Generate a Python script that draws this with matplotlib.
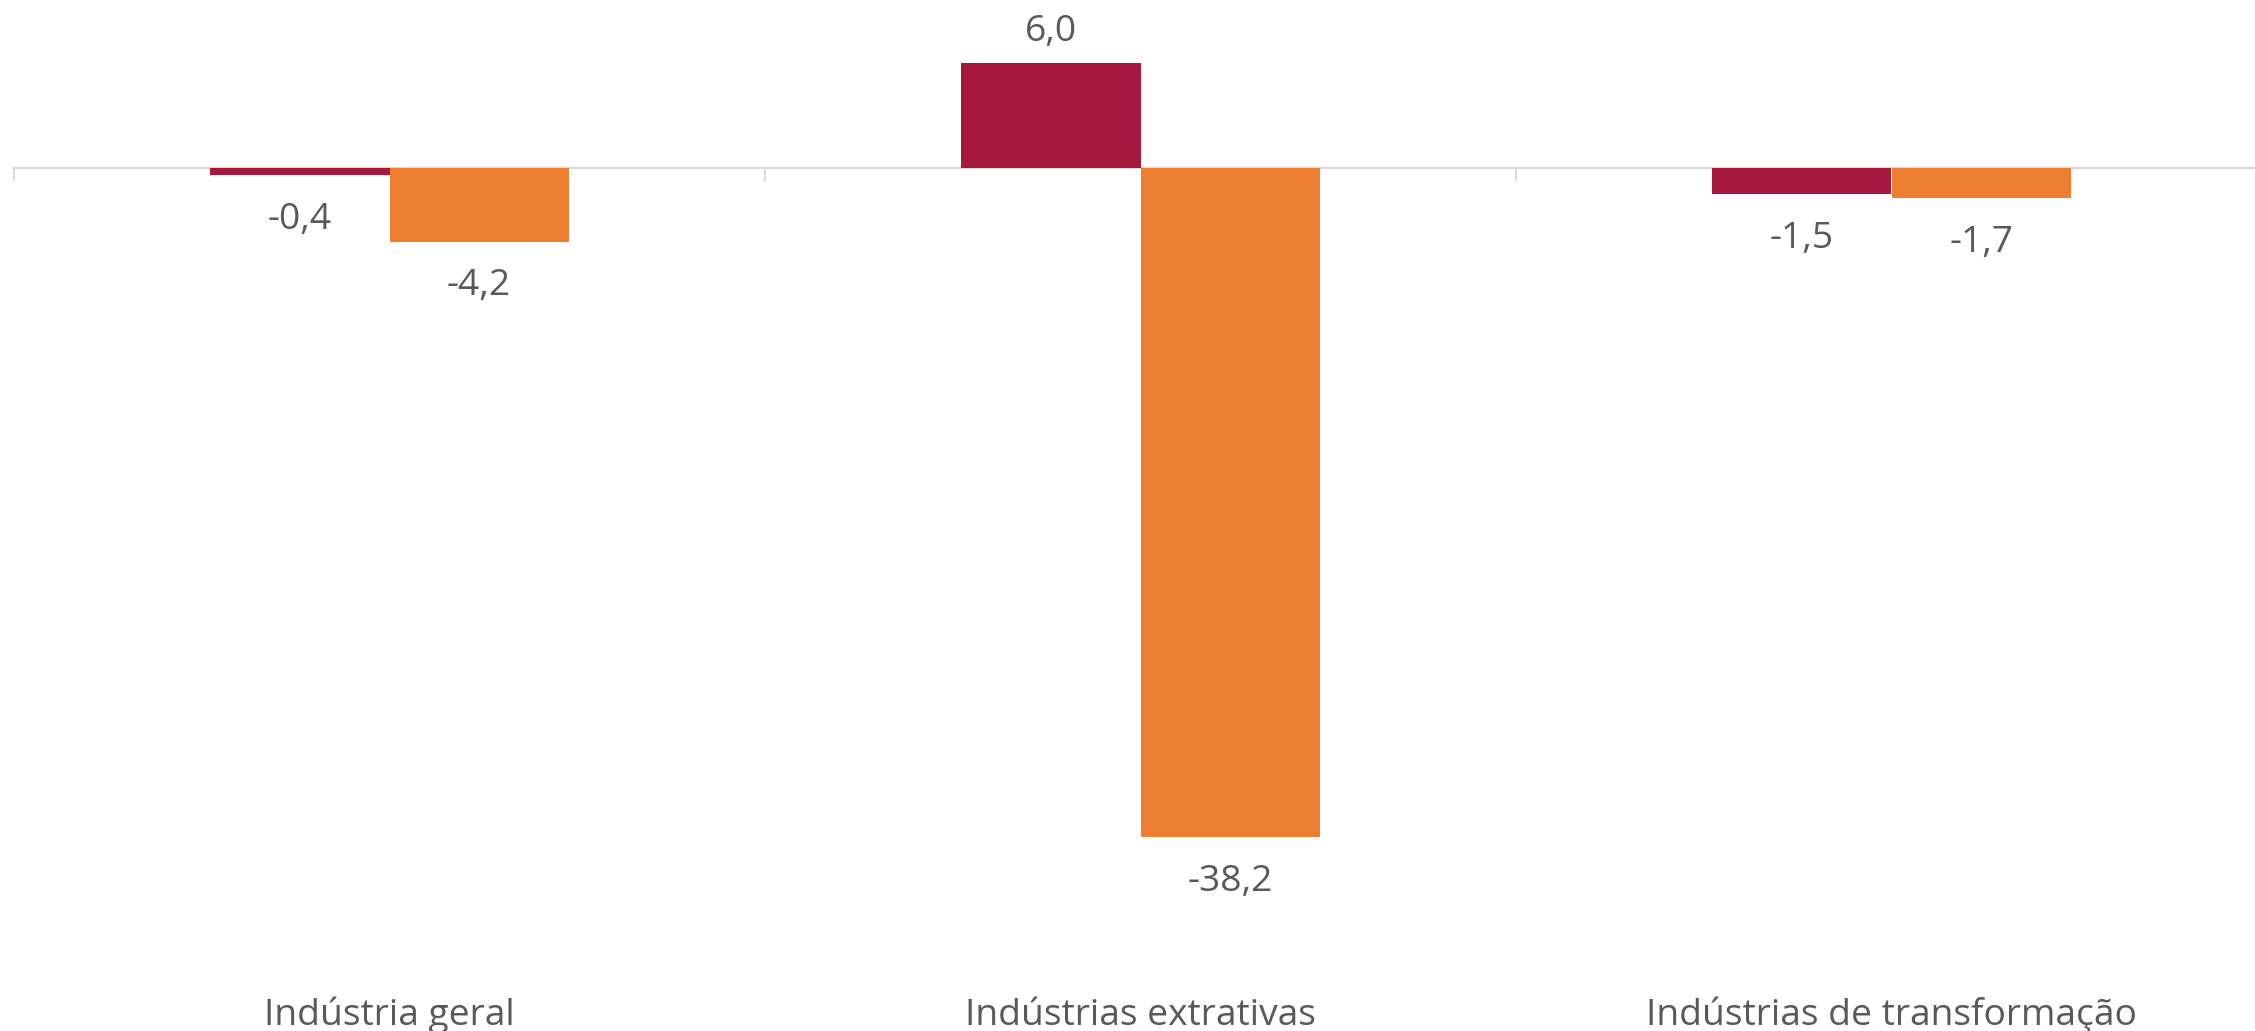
import matplotlib
matplotlib.use("Agg")
import matplotlib.pyplot as plt
import matplotlib.transforms as mtransforms
import numpy as np

categories = ["Indústria geral", "Indústrias extrativas", "Indústrias de transformação"]
series_a = [-0.4, 6.0, -1.5]
series_b = [-4.2, -38.2, -1.7]
labels_a = ["-0,4", "6,0", "-1,5"]
labels_b = ["-4,2", "-38,2", "-1,7"]

color_a = "#A6193C"
color_b = "#ED7D31"
text_color = "#595959"
axis_color = "#D9D9D9"
font = "Open Sans"
fsize = 26.7

W, H = 2255, 1031
fig = plt.figure(figsize=(W / 100, H / 100), dpi=100)

px_per_unit = 17.5
zero_px = 168
ax_top_px, ax_bot_px = 20, 900
left_px = 14
cat_px = 751
ax = fig.add_axes([left_px / W, (H - ax_bot_px) / H, 3 * cat_px / W, (ax_bot_px - ax_top_px) / H])
ax.set_ylim(-(ax_bot_px - zero_px) / px_per_unit, (zero_px - ax_top_px) / px_per_unit)
ax.set_xlim(-0.5, 2.5)

x = np.arange(len(categories))
bw = 0.2385
bars_a = ax.bar(x - bw / 2, series_a, width=bw, color=color_a, zorder=2)
bars_b = ax.bar(x + bw / 2, series_b, width=bw, color=color_b, zorder=2)

for xs, vals, labs in ((x - bw / 2, series_a, labels_a), (x + bw / 2, series_b, labels_b)):
    for cx, v, lab in zip(xs, vals, labs):
        off = 22 if v >= 0 else -54
        ax.annotate(lab, (cx, v), xytext=(0, off), textcoords="offset pixels",
                    ha="center", va="baseline", fontsize=fsize, color=text_color,
                    family=font)

for s in ("top", "right", "left"):
    ax.spines[s].set_visible(False)
ax.spines["bottom"].set_position(("data", 0))
ax.spines["bottom"].set_color(axis_color)
ax.spines["bottom"].set_linewidth(1.5)
ax.spines["bottom"].set_zorder(1)
ax.set_yticks([])
ax.set_xticks([-0.5, 0.5, 1.5])
ax.set_xticklabels([])
ax.tick_params(axis="x", direction="out", length=9.4, width=1.5, color=axis_color)

trans = mtransforms.blended_transform_factory(ax.transData, fig.transFigure)
for i, c in enumerate(categories):
    ax.text(i, 6 / H, c, transform=trans, ha="center", va="baseline",
            fontsize=fsize, color=text_color, family=font)

fig.savefig("out.png", dpi=100, facecolor="white")
